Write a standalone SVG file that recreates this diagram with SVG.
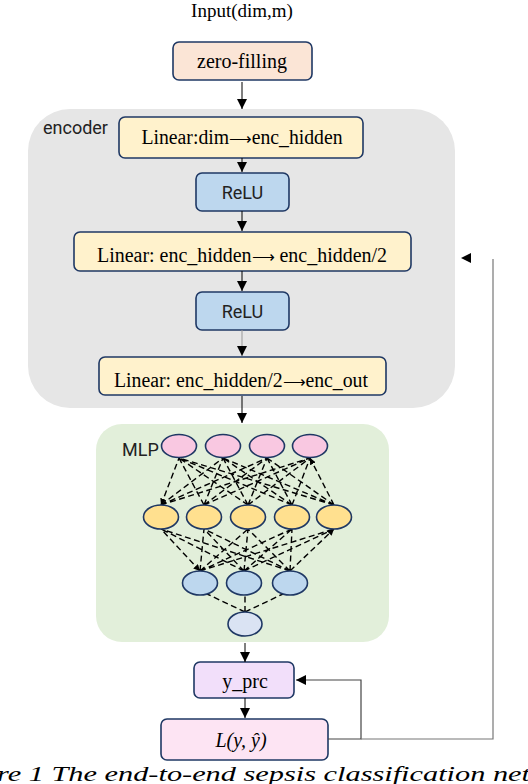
<svg xmlns="http://www.w3.org/2000/svg" width="528" height="784" viewBox="0 0 528 784">
<defs>
<style>
.box{stroke:#1F3864;stroke-width:1.6}
.serif{font-family:"Liberation Serif","Times New Roman",serif;font-size:20px;fill:#000;text-anchor:middle}
.arr{font-family:"DejaVu Sans",sans-serif;font-size:16px;font-weight:200}
.sans{font-family:Roboto,"Noto Sans",sans-serif;font-size:18px;fill:#222}
.flow{stroke:#000;stroke-width:1;fill:none}
.mesh{stroke:#000;stroke-width:1.4;stroke-dasharray:6,3.5;fill:none}
.node{stroke:#1F3864;stroke-width:1.6}
</style>
<marker id="ah" viewBox="0 0 10 10" refX="10" refY="5" markerWidth="10" markerHeight="10" markerUnits="userSpaceOnUse" orient="auto">
<path d="M0,0 L10,5 L0,10 Z" fill="#000"/>
</marker>
<marker id="mh" viewBox="0 0 10 10" refX="10" refY="5" markerWidth="6.5" markerHeight="6.5" markerUnits="userSpaceOnUse" orient="auto-start-reverse">
<path d="M0,0 L10,5 L0,10 Z" fill="#000"/>
</marker>
</defs>
<rect width="528" height="784" fill="#fff"/>

<g id="input"><text class="serif" x="242" y="17" style="font-size:19px">Input(dim,m)</text></g>

<g id="zero-filling">
<rect class="box" x="173" y="42" width="139" height="38" rx="6" fill="#FBE5D6"/>
<text class="serif" x="242" y="68">zero-filling</text>
</g>

<g id="encoder">
<rect x="28" y="109" width="427" height="299" rx="42" fill="#E6E6E6"/>
<text class="sans" x="43" y="134" fill="#333">encoder</text>
</g>

<g id="linear1">
<rect class="box" x="119" y="117" width="244" height="41" rx="6" fill="#FFF2CC"/>
<text class="serif" x="242" y="144" textLength="201" lengthAdjust="spacingAndGlyphs">Linear:dim<tspan class="arr">⟶</tspan>enc_hidden</text>
</g>
<g id="relu1">
<rect class="box" x="196" y="173" width="93" height="38" rx="6" fill="#BDD7EE"/>
<text class="sans" x="242.5" y="199" text-anchor="middle">ReLU</text>
</g>
<g id="linear2">
<rect class="box" x="74" y="232" width="337" height="39" rx="6" fill="#FFF2CC"/>
<text class="serif" x="242" y="262" textLength="290" lengthAdjust="spacingAndGlyphs">Linear: enc_hidden<tspan class="arr">⟶</tspan> enc_hidden/2</text>
</g>
<g id="relu2">
<rect class="box" x="196" y="292" width="93" height="38" rx="6" fill="#BDD7EE"/>
<text class="sans" x="242.5" y="318" text-anchor="middle">ReLU</text>
</g>
<g id="linear3">
<rect class="box" x="99" y="357" width="287" height="38" rx="6" fill="#FFF2CC"/>
<text class="serif" x="241" y="387" textLength="254" lengthAdjust="spacingAndGlyphs">Linear: enc_hidden/2<tspan class="arr">⟶</tspan>enc_out</text>
</g>

<g id="mlp">
<rect x="96" y="424" width="293" height="218" rx="26" fill="#E2EFDA"/>
<text class="sans" x="122" y="456">MLP</text>
</g>

<g id="mlp-connectors">
<path class="mesh" marker-start="url(#mh)" marker-end="url(#mh)" d="M161,505 L179,458 M161,505 L223,458 M161,505 L267,458 M161,505 L310,458
M204,505 L179,458 M204,505 L223,458 M204,505 L267,458 M204,505 L310,458
M248,505 L179,458 M248,505 L223,458 M248,505 L267,458 M248,505 L310,458
M292,505 L179,458 M292,505 L223,458 M292,505 L267,458 M292,505 L310,458
M334,505 L179,458 M334,505 L223,458 M334,505 L267,458 M334,505 L310,458"/>
<path class="mesh" marker-start="url(#mh)" marker-end="url(#mh)" d="M200,571 L161,529 M200,571 L204,529 M200,571 L248,529 M200,571 L292,529 M200,571 L334,529
M244,571 L161,529 M244,571 L204,529 M244,571 L248,529 M244,571 L292,529 M244,571 L334,529
M290,571 L161,529 M290,571 L204,529 M290,571 L248,529 M290,571 L292,529 M290,571 L334,529"/>
<path class="mesh" d="M245,612 L207,594 M245,612 L245,595 M245,612 L283,594"/>
</g>

<g id="mlp-nodes">
<ellipse class="node" cx="179" cy="446" rx="17.5" ry="11.5" fill="#F9C8E1"/>
<ellipse class="node" cx="223" cy="446" rx="17.5" ry="11.5" fill="#F9C8E1"/>
<ellipse class="node" cx="267" cy="446" rx="17.5" ry="11.5" fill="#F9C8E1"/>
<ellipse class="node" cx="310" cy="446" rx="17.5" ry="11.5" fill="#F9C8E1"/>
<ellipse class="node" cx="161" cy="517" rx="17.5" ry="12" fill="#FFE08F"/>
<ellipse class="node" cx="204" cy="517" rx="17.5" ry="12" fill="#FFE08F"/>
<ellipse class="node" cx="248" cy="517" rx="17.5" ry="12" fill="#FFE08F"/>
<ellipse class="node" cx="292" cy="517" rx="17.5" ry="12" fill="#FFE08F"/>
<ellipse class="node" cx="334" cy="517" rx="17.5" ry="12" fill="#FFE08F"/>
<ellipse class="node" cx="200" cy="583" rx="17.5" ry="12" fill="#BDD7EE"/>
<ellipse class="node" cx="244" cy="583" rx="17.5" ry="12" fill="#BDD7EE"/>
<ellipse class="node" cx="290" cy="583" rx="17.5" ry="12" fill="#BDD7EE"/>
<ellipse class="node" cx="245" cy="624" rx="17" ry="12" fill="#DAE3F3"/>
</g>

<g id="y_pre">
<rect class="box" x="194" y="662" width="100" height="36" rx="6" fill="#F2DFFA"/>
<text class="serif" x="245" y="688">y_prc</text>
</g>
<g id="loss">
<rect class="box" x="161" y="719" width="167" height="41" rx="6" fill="#FDE4F3"/>
<text class="serif" x="241" y="747" font-style="italic">L(y, ŷ)</text>
</g>

<g id="connectors">
<line class="flow" x1="242" y1="82" x2="242" y2="109" marker-end="url(#ah)"/>
<line class="flow" x1="242" y1="158" x2="242" y2="172" marker-end="url(#ah)"/>
<line class="flow" x1="242" y1="211" x2="242" y2="231" marker-end="url(#ah)"/>
<line class="flow" x1="242" y1="271" x2="242" y2="291" marker-end="url(#ah)"/>
<line class="flow" x1="242" y1="330" x2="242" y2="356" style="stroke:#999" marker-end="url(#ah)"/>
<line class="flow" x1="242" y1="396" x2="242" y2="423" marker-end="url(#ah)"/>
<line class="flow" x1="245" y1="643" x2="245" y2="662" marker-end="url(#ah)"/>
<line class="flow" x1="245" y1="698" x2="245" y2="718" marker-end="url(#ah)"/>
<polyline points="328,739 361,739 361,680 296,680" fill="none" stroke="#444" stroke-width="1.2" marker-end="url(#ah)"/>
<polyline points="361,739 493,739 493,259" fill="none" stroke="#777" stroke-width="1.2"/>
<polygon points="461,258 471,253 471,263" fill="#000"/>
</g>

<g id="caption">
<text x="-3" y="781" font-family="'Liberation Serif','Times New Roman',serif" font-style="italic" font-size="22" textLength="533" lengthAdjust="spacingAndGlyphs" fill="#000">re 1 The end-to-end sepsis classification net</text>
</g>
</svg>
